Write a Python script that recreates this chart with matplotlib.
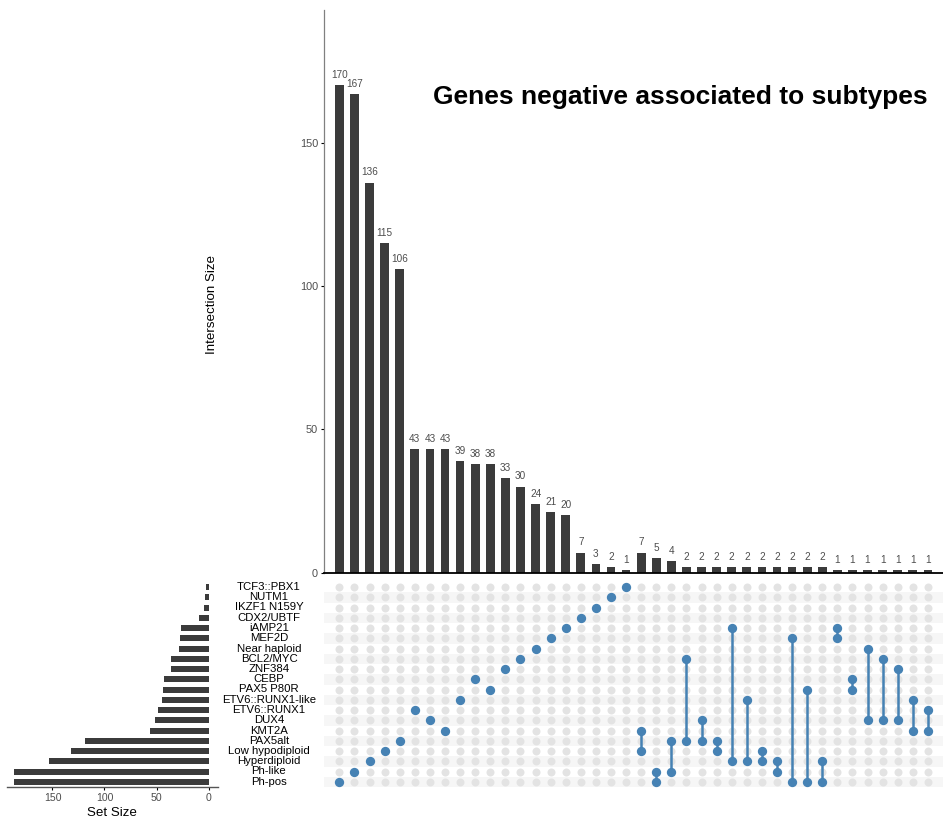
import numpy as np
import matplotlib
matplotlib.use('Agg')
import matplotlib.pyplot as plt

plt.rcParams['font.family'] = ['Liberation Sans', 'DejaVu Sans']

# sets, from top row to bottom row of the matrix
sets = ['TCF3::PBX1', 'NUTM1', 'IKZF1 N159Y', 'CDX2/UBTF', 'iAMP21', 'MEF2D',
        'Near haploid', 'BCL2/MYC', 'ZNF384', 'CEBP', 'PAX5 P80R',
        'ETV6::RUNX1-like', 'ETV6::RUNX1', 'DUX4', 'KMT2A', 'PAX5alt',
        'Low hypodiploid', 'Hyperdiploid', 'Ph-like', 'Ph-pos']
set_sizes = [2, 3, 4, 9, 26, 27, 28, 36, 36, 43, 44, 45, 49, 51, 56,
             119, 132, 153, 187, 187]

inter_sizes = [170, 167, 136, 115, 106, 43, 43, 43, 39, 38, 38, 33, 30, 24, 21,
               20, 7, 3, 2, 1, 7, 5, 4, 2, 2, 2, 2, 2, 2, 2, 2, 2, 2, 1, 1, 1,
               1, 1, 1, 1]
inter_members = [
    ['Ph-pos'], ['Ph-like'], ['Hyperdiploid'], ['Low hypodiploid'], ['PAX5alt'],
    ['ETV6::RUNX1'], ['DUX4'], ['KMT2A'], ['ETV6::RUNX1-like'], ['CEBP'],
    ['PAX5 P80R'], ['ZNF384'], ['BCL2/MYC'], ['Near haploid'], ['MEF2D'],
    ['iAMP21'], ['CDX2/UBTF'], ['IKZF1 N159Y'], ['NUTM1'], ['TCF3::PBX1'],
    ['KMT2A', 'Low hypodiploid'], ['Ph-like', 'Ph-pos'], ['PAX5alt', 'Ph-like'],
    ['BCL2/MYC', 'PAX5alt'], ['DUX4', 'PAX5alt'], ['PAX5alt', 'Low hypodiploid'],
    ['iAMP21', 'Hyperdiploid'], ['ETV6::RUNX1-like', 'Hyperdiploid'],
    ['Low hypodiploid', 'Hyperdiploid'], ['Hyperdiploid', 'Ph-like'],
    ['MEF2D', 'Ph-pos'], ['PAX5 P80R', 'Ph-pos'], ['Hyperdiploid', 'Ph-pos'],
    ['iAMP21', 'MEF2D'], ['CEBP', 'PAX5 P80R'], ['Near haploid', 'DUX4'],
    ['BCL2/MYC', 'DUX4'], ['ZNF384', 'DUX4'], ['ETV6::RUNX1-like', 'KMT2A'],
    ['ETV6::RUNX1', 'KMT2A'],
]

bar_col = '#3b3b3b'
dot_on = '#4682B4'
dot_off = '#e3e3e3'
stripe = '#f6f6f6'
txt_grey = '#4d4d4d'

W, H = 943, 826
fig = plt.figure(figsize=(W / 100, H / 100), dpi=100)

def box(x0, y0, x1, y1):
    # pixel box (top-left origin) -> figure fraction
    return [x0 / W, 1 - y1 / H, (x1 - x0) / W, (y1 - y0) / H]

n_int = len(inter_sizes)
n_set = len(sets)
xs = np.arange(n_int)
rows = np.arange(n_set)

# intersection size bars
ax_top = fig.add_axes(box(324.3, 10, 943, 572.7))
ax_top.bar(xs, inter_sizes, width=0.58, color=bar_col)
for x, v in zip(xs, inter_sizes):
    ax_top.text(x, v + 1.8, str(v), ha='center', va='bottom', fontsize=7.2, color=txt_grey)
ax_top.set_xlim(-1, n_int)
ax_top.set_ylim(0, 196.2)
ax_top.set_yticks([0, 50, 100, 150])
ax_top.set_xticks([])
for s in ['top', 'right']:
    ax_top.spines[s].set_visible(False)
ax_top.spines['left'].set_color('#808080')
ax_top.spines['left'].set_linewidth(0.9)
ax_top.spines['bottom'].set_color('black')
ax_top.spines['bottom'].set_linewidth(1.3)
ax_top.tick_params(axis='y', length=2.5, width=0.8, labelsize=7.8, labelcolor=txt_grey, pad=2)
fig.text(212 / W, 1 - 305 / H, 'Intersection Size', rotation=90, ha='center', va='center', fontsize=9.6)
fig.text(680.5 / W, 1 - 97 / H, 'Genes negative associated to subtypes', ha='center', va='center',
         fontsize=19, fontweight='bold')

# matrix
ax_m = fig.add_axes(box(324.3, 582, 943, 787))
for r in rows:
    if r % 2 == 1:
        ax_m.axhspan(r - 0.5, r + 0.5, color=stripe, lw=0, zorder=0)
gx, gy = np.meshgrid(xs, rows)
ax_m.scatter(gx.ravel(), gy.ravel(), s=33, color=dot_off, lw=0, zorder=1)
for x, mem in zip(xs, inter_members):
    ry = [sets.index(m) for m in mem]
    if len(ry) > 1:
        ax_m.plot([x, x], [min(ry), max(ry)], color=dot_on, lw=1.8, zorder=2)
    ax_m.scatter([x] * len(ry), ry, s=45, color=dot_on, lw=0, zorder=3)
ax_m.set_xlim(-1, n_int)
ax_m.set_ylim(n_set - 0.5, -0.5)
ax_m.axis('off')

# set size bars
ax_s = fig.add_axes(box(6.7, 582, 218, 787))
ax_s.barh(rows, set_sizes, height=0.6, color=bar_col)
ax_s.set_ylim(n_set - 0.5, -0.5)
ax_s.set_xlim(194, -9.1)
ax_s.set_xticks([0, 50, 100, 150])
ax_s.set_yticks([])
for s in ['top', 'right', 'left']:
    ax_s.spines[s].set_visible(False)
ax_s.spines['bottom'].set_color('#555555')
ax_s.spines['bottom'].set_linewidth(1.0)
ax_s.tick_params(axis='x', length=2.5, width=0.8, labelsize=7.6, labelcolor=txt_grey, pad=2)
ax_s.set_xlabel('Set Size', fontsize=9.6, labelpad=3)

# set names
for r, name in zip(rows, sets):
    y = 587 + r * 10.25
    fig.text(269 / W, 1 - y / H, name, ha='center', va='center', fontsize=8.2)

fig.savefig('out.png', dpi=100)
